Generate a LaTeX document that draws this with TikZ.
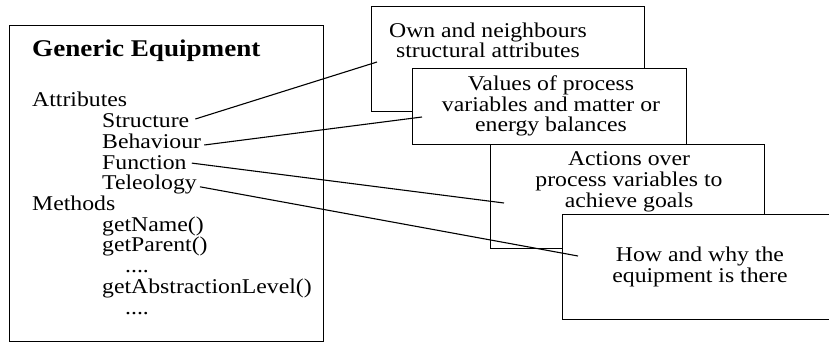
\documentclass[tikz,border=0pt]{standalone}
\usepackage{fontspec}
\setmainfont{Liberation Serif}[FakeStretch=1.13]
\begin{document}
\begin{tikzpicture}[x=1pt,y=1pt,
  panel/.style={draw, line width=1.2pt, fill=white, inner sep=0pt, anchor=north west},
  txt/.style={inner sep=0pt, anchor=base west, font=\fontsize{21}{20.7}\selectfont},
  boxtxt/.style={inner sep=0pt, anchor=base, align=center, font=\fontsize{21}{20.5}\selectfont},
  link/.style={line width=1.1pt}]
\useasboundingbox (0,0) rectangle (829,343);
\clip (0,0) rectangle (829,343);

% class box
\node[panel, minimum width=314, minimum height=316] (cls) at (9,318) {};
\node[txt, font=\fontsize{24}{24}\selectfont\bfseries] (title) at (32,286) {Generic Equipment};
\node[txt] (attr) at (32,236) {Attributes};
\node[txt] (struct) at (102,215.5) {Structure};
\node[txt] (behav) at (102,194.6) {Behaviour};
\node[txt] (func) at (102,173.9) {Function};
\node[txt] (tele) at (102,153.2) {Teleology};
\node[txt] (meth) at (32,132.5) {Methods};
\node[txt] (gname) at (102,111.8) {getName()};
\node[txt] (gpar) at (102,91.1) {getParent()};
\node[txt] (dots1) at (125,70.4) {....};
\node[txt] (gabs) at (102,49.7) {getAbstractionLevel()};
\node[txt] (dots2) at (125,29) {....};

% description cards, back to front (text placed by its last baseline)
\node[panel, minimum width=273, minimum height=105] (own) at (371,337) {};
\node[boxtxt] (owntxt) at (488,285) {Own and neighbours\\structural attributes};

\node[panel, minimum width=274, minimum height=76] (vals) at (412,275) {};
\node[boxtxt] (valstxt) at (551,211) {Values of process\\variables and matter or\\energy balances};

\node[panel, minimum width=274, minimum height=104] (act) at (490,199) {};
\node[boxtxt] (acttxt) at (629,136) {Actions over\\process variables to\\achieve goals};

\node[panel, minimum width=280, minimum height=105] (why) at (562,129) {};
\node[boxtxt] (whytxt) at (700,61) {How and why the\\equipment is there};

% connectors
\coordinate (e1) at (377,281);
\coordinate (e2) at (422,226);
\coordinate (e3) at (504,140);
\coordinate (e4) at (578,87);
\draw[link] ([xshift=6pt,yshift=8.5pt]struct.base east) -- (e1);
\draw[link] ([xshift=3pt,yshift=3.4pt]behav.base east) -- (e2);
\draw[link] ([xshift=5pt,yshift=6pt]func.base east) -- (e3);
\draw[link] ([xshift=3pt,yshift=3pt]tele.base east) -- (e4);
\end{tikzpicture}
\end{document}
